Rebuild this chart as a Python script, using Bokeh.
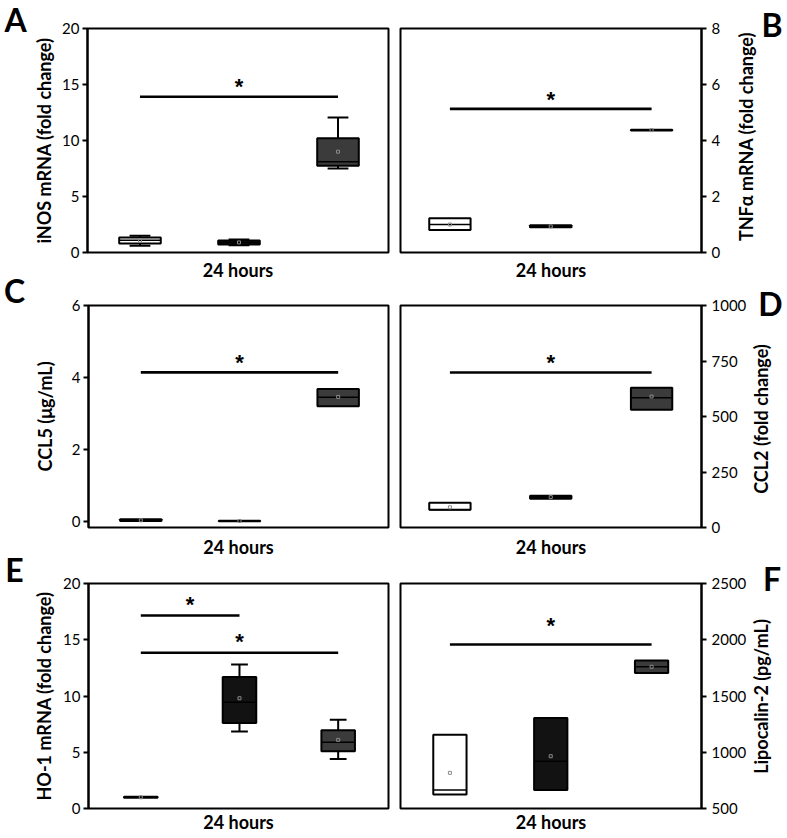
import math
from bokeh.plotting import figure
from bokeh.layouts import column, row
from bokeh.models import Range1d, FixedTicker, Label
from bokeh.embed import file_html
from bokeh.resources import INLINE

# ---------------- data ----------------
groups = [1, 2, 3]
fills = ["#ffffff", "#121212", "#3b3b3b"]

# A: iNOS mRNA (fold change)
a_lo = [0.6, 0.65, 7.5]
a_q1 = [0.8, 0.72, 7.75]
a_med = [1.1, 0.9, 8.1]
a_q3 = [1.35, 1.08, 10.2]
a_hi = [1.5, 1.15, 12.05]
a_mean = [1.05, 0.9, 9.0]
a_ticks = [0, 5, 10, 15, 20]
a_sig = [(1, 3, 13.9)]

# B: TNFa mRNA (fold change)
b_q1 = [0.8, 0.9, 4.36]
b_med = [1.0, 0.93, 4.37]
b_q3 = [1.22, 0.97, 4.38]
b_mean = [1.0, 0.93, 4.37]
b_ticks = [0, 2, 4, 6, 8]
b_sig = [(1, 3, 5.13)]

# C: CCL5 (ug/mL)
c_q1 = [0.01, 0.005, 3.2]
c_med = [0.03, 0.01, 3.45]
c_q3 = [0.06, 0.015, 3.68]
c_mean = [0.03, 0.01, 3.46]
c_ticks = [0, 2, 4, 6]
c_sig = [(1, 3, 4.14)]

# D: CCL2 (fold change)
d_q1 = [80, 130, 530]
d_med = [80, 137, 585]
d_q3 = [112, 143, 630]
d_mean = [91, 137, 590]
d_ticks = [0, 250, 500, 750, 1000]
d_sig = [(1, 3, 698)]

# E: HO-1 mRNA (fold change)
e_lo = [None, 6.85, 4.4]
e_q1 = [0.95, 7.6, 5.1]
e_med = [1.0, 9.45, 5.9]
e_q3 = [1.05, 11.7, 6.95]
e_hi = [None, 12.8, 7.9]
e_mean = [1.0, 9.8, 6.1]
e_ticks = [0, 5, 10, 15, 20]
e_sig = [(1, 2, 17.15), (1, 3, 13.85)]

# F: Lipocalin-2 (pg/mL)
f_q1 = [625, 665, 1705]
f_med = [665, 920, 1760]
f_q3 = [1155, 1305, 1815]
f_mean = [817, 965, 1760]
f_ticks = [500, 1000, 1500, 2000, 2500]
f_sig = [(1, 3, 1958)]

FONT = "Lato"
LETTER_SIZE = "32px"
LABEL_SIZE = "18px"


def panel(side, width, height, bl, br, top, bottom, yr, ticks, q1, med, q3,
          mean, lo, hi, sig, bw, cw, ylabel, ylabel_standoff,
          xlabel_standoff, star_off):
    xr = (0.47, 3.51) if side == "left" else (0.51, 3.495)
    p = figure(width=width, height=height, output_backend="svg",
               toolbar_location=None, x_axis_location="below",
               y_axis_location=side, min_border_left=bl,
               min_border_right=br, min_border_top=top,
               min_border_bottom=bottom,
               x_range=Range1d(*xr), y_range=Range1d(*yr))
    p.grid.visible = False
    p.outline_line_color = "black"
    p.outline_line_width = 2
    p.outline_line_alpha = 1

    ax = p.yaxis[0]
    ax.ticker = FixedTicker(ticks=ticks)
    ax.axis_line_width = 2
    ax.major_tick_line_width = 2
    ax.major_tick_out = 5
    ax.major_tick_in = 0
    ax.minor_tick_line_color = None
    ax.major_label_text_font = FONT
    ax.major_label_text_font_size = "15px"
    ax.major_label_text_color = "black"
    ax.major_label_standoff = 3 if side == "left" else 5
    if ylabel:
        ax.axis_label = ylabel
        ax.axis_label_text_font = FONT
        ax.axis_label_text_font_style = "bold"
        ax.axis_label_text_font_size = LABEL_SIZE
        ax.axis_label_text_color = "black"
        ax.axis_label_standoff = ylabel_standoff

    xa = p.xaxis[0]
    xa.ticker = FixedTicker(ticks=[])
    xa.axis_line_color = None
    xa.major_tick_line_color = None
    xa.minor_tick_line_color = None
    xa.major_tick_out = 0
    xa.major_tick_in = 0
    xa.major_label_standoff = 0
    xa.axis_label = "24 hours"
    xa.axis_label_text_font = FONT
    xa.axis_label_text_font_style = "bold"
    xa.axis_label_text_font_size = LABEL_SIZE
    xa.axis_label_text_color = "black"
    xa.axis_label_standoff = xlabel_standoff

    # boxes
    left = [g - bw / 2 for g in groups]
    right = [g + bw / 2 for g in groups]
    for g, l, h, a, b in zip(groups, lo, hi, q1, q3):
        if l is not None:
            p.segment(x0=[g, g - cw / 2], y0=[l, l], x1=[g, g + cw / 2],
                      y1=[a, l], line_color="black", line_width=2)
        if h is not None:
            p.segment(x0=[g, g - cw / 2], y0=[b, h], x1=[g, g + cw / 2],
                      y1=[h, h], line_color="black", line_width=2)
    p.quad(left=left, right=right, bottom=q1, top=q3, fill_color=fills,
           line_color="black", line_width=2)
    p.segment(x0=left, x1=right, y0=med, y1=med, line_color="black",
              line_width=1.5)
    p.scatter(x=groups, y=mean, marker="square", size=3, fill_color=None,
              line_color="#8a8a8a", line_width=1)

    # significance bars
    for (x0, x1, y) in sig:
        p.segment(x0=[x0], x1=[x1], y0=[y], y1=[y], line_color="black",
                  line_width=2.6)
        p.add_layout(Label(x=(x0 + x1) / 2, y=y, text="*",
                           text_font="Liberation Sans",
                           text_font_style="bold", text_font_size="22px",
                           text_align="center", text_baseline="middle",
                           y_offset=star_off, text_color="black"))
    return p


def strip(width, height, texts):
    """A bare canvas that only carries outside texts (letters, right labels)."""
    s = figure(width=width, height=height, output_backend="svg",
               toolbar_location=None, x_axis_location=None,
               y_axis_location=None, min_border=0,
               x_range=Range1d(0, 1), y_range=Range1d(0, 1))
    s.outline_line_color = None
    s.grid.visible = False
    for (txt, x, y, size, ang) in texts:
        s.add_layout(Label(x=x, y=y, x_units="screen", y_units="screen",
                           text=txt, text_font=FONT, text_font_style="bold",
                           text_font_size=size, text_align="center",
                           text_baseline="middle", angle=ang,
                           text_color="black"))
    return s


nil = [None, None, None]
pA = panel("left", 364, 283, 53, 6, 28, 31, (0, 20), a_ticks, a_q1, a_med,
           a_q3, a_mean, a_lo, a_hi, a_sig, 0.42, 0.21,
           "iNOS mRNA (fold change)", 4, 6, 10)
pB = panel("right", 329, 283, 6, 20, 28, 31, (0, 8), b_ticks, b_q1, b_med,
           b_q3, b_mean, nil, nil, b_sig, 0.41, 0.2, None, 0, 6, 9)
pC = panel("left", 364, 277, 53, 6, 22, 32, (-0.17, 6), c_ticks, c_q1, c_med,
           c_q3, c_mean, nil, nil, c_sig, 0.42, 0.2,
           "CCL5 (\u03bcg/mL)", 13, 8, 10)
pD = panel("right", 355, 277, 6, 46, 22, 32, (0, 1000), d_ticks, d_q1, d_med,
           d_q3, d_mean, nil, nil, d_sig, 0.41, 0.2, None, 0, 8, 10)
pE = panel("left", 364, 277, 53, 6, 23, 29, (0, 20), e_ticks, e_q1, e_med,
           e_q3, e_mean, e_lo, e_hi, e_sig, 0.34, 0.17,
           "HO-1 mRNA (fold change)", 5, 2, 11)
pF = panel("right", 355, 277, 6, 46, 23, 29, (500, 2500), f_ticks, f_q1,
           f_med, f_q3, f_mean, nil, nil, f_sig, 0.33, 0.2, None, 0, 2, 19)

up = math.pi / 2
sL = strip(30, 837, [("A", 15, 818, LETTER_SIZE, 0),
                     ("C", 14, 547, LETTER_SIZE, 0),
                     ("E", 14, 268, LETTER_SIZE, 0)])
sB = strip(64, 283, [("TNF\u03b1 mRNA (fold change)", 22.5, 147, LABEL_SIZE, up),
                     ("B", 48.5, 259, LETTER_SIZE, 0)])
sD = strip(38, 277, [("CCL2 (fold change)", 11, 141.5, LABEL_SIZE, up),
                     ("D", 21, 257, LETTER_SIZE, 0)])
sF = strip(38, 277, [("Lipocalin-2 (pg/mL)", 11.5, 141, LABEL_SIZE, up),
                     ("F", 22.5, 259, LETTER_SIZE, 0)])

layout = row(sL, column(row(pA, pB, column(sB)),
                        row(pC, pD, column(sD)),
                        row(pE, pF, column(sF))))
open("out.html", "w").write(file_html(layout, INLINE))
